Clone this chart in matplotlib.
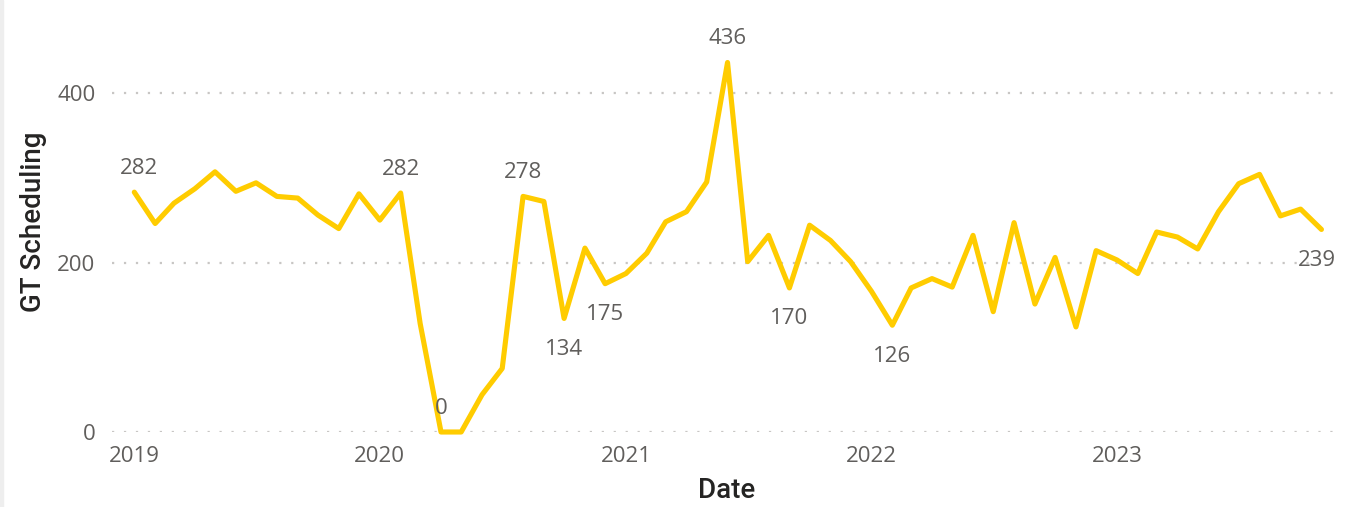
import matplotlib
matplotlib.use("Agg")
import matplotlib.pyplot as plt
import matplotlib.dates as mdates
import pandas as pd
import numpy as np
from matplotlib.patches import Rectangle

# ---- data ----
start_month = "2019-01-01"
values = [283, 246, 270, 287, 307, 284, 294, 278, 276, 256, 240, 281,
          250, 282, 128, 0, 0, 44, 75, 278, 272, 134, 217, 175,
          187, 211, 248, 260, 295, 436, 201, 232, 170, 244, 226, 201,
          166, 126, 170, 181, 171, 232, 142, 247, 151, 206, 124, 214,
          203, 187, 236, 230, 216, 260, 293, 304, 255, 263, 239]
dates = pd.date_range(start_month, periods=len(values), freq="MS")

# labelled points: index -> (label, position)
label_idx = [0, 13, 15, 19, 21, 23, 29, 32, 37, 58]
label_text = ["282", "282", "0", "278", "134", "175", "436", "170", "126", "239"]
label_pos = ["above", "above", "above", "above", "below", "below", "above", "below", "below", "below"]

year_ticks = ["2019", "2020", "2021", "2022", "2023"]
y_ticks = [0, 200, 400]

LINE = "#FFCC00"
TXT = "#605E5C"
TITLE = "#252423"
GRID = "#C8C6C4"

plt.rcParams["lines.scale_dashes"] = False
tick_font = ["Open Sans", "DejaVu Sans"]
title_font = ["Roboto", "DejaVu Sans"]

W, H = 1350, 507
fig = plt.figure(figsize=(W / 100, H / 100), dpi=100)
fig.patch.set_facecolor("white")

# axes placement in pixels
ax_left, ax_right = 112, 1340
ax_top, ax_bottom = 25.2, 432
ax = fig.add_axes([ax_left / W, 1 - ax_bottom / H, (ax_right - ax_left) / W, (ax_bottom - ax_top) / H])
ax.set_facecolor("white")

x0 = mdates.date2num(pd.Timestamp("2019-01-01"))
px_per_day = 245.5 / 365.0
ax.set_xlim(x0 - (134.3 - ax_left) / px_per_day, x0 + (ax_right - 134.3) / px_per_day)
ax.set_ylim(0, 480)

for s in ax.spines.values():
    s.set_visible(False)

for yv in y_ticks:
    ax.axhline(yv, color=GRID, lw=1.6, linestyle=(0, (1.6, 7.0)), zorder=1)

ax.plot(mdates.date2num(dates), values, color=LINE, lw=3.7, solid_joinstyle="round",
        solid_capstyle="round", zorder=3, clip_on=False)

# ticks
ax.set_yticks(y_ticks)
ax.set_yticklabels([str(v) for v in y_ticks])
ax.set_xticks([mdates.date2num(pd.Timestamp(f"{y}-01-01")) for y in year_ticks])
ax.set_xticklabels(year_ticks)
ax.tick_params(axis="both", length=0, labelcolor=TXT, labelsize=16)
ax.tick_params(axis="y", pad=12)
ax.tick_params(axis="x", pad=10)
for lab in ax.get_xticklabels() + ax.get_yticklabels():
    lab.set_fontfamily(tick_font)

# data labels
for i, t, p in zip(label_idx, label_text, label_pos):
    dy = 24 if p == "above" else -31
    dx = 0
    if i == 0:
        dx = 5
    if i == len(values) - 1:
        dx = -5
    ax.annotate(t, (mdates.date2num(dates[i]), values[i]), xytext=(dx * 0.72, dy * 0.72),
                textcoords="offset points", ha="center", va="center", color=TXT,
                fontsize=16, family=tick_font, zorder=4, annotation_clip=False)

# axis titles
fig.text(727 / W, 1 - 491 / H, "Date", ha="center", va="center", color=TITLE,
         fontsize=20, family=title_font, fontweight="medium")
fig.text(34 / W, 1 - 222 / H, "GT Scheduling", ha="center", va="center", rotation=90,
         color=TITLE, fontsize=20, family=title_font, fontweight="medium")

# light left border
fig.patches.append(Rectangle((0, 0), 3 / W, 1, transform=fig.transFigure, color="#EEEEEE", zorder=0))

fig.savefig("out.png", dpi=100, facecolor="white")
